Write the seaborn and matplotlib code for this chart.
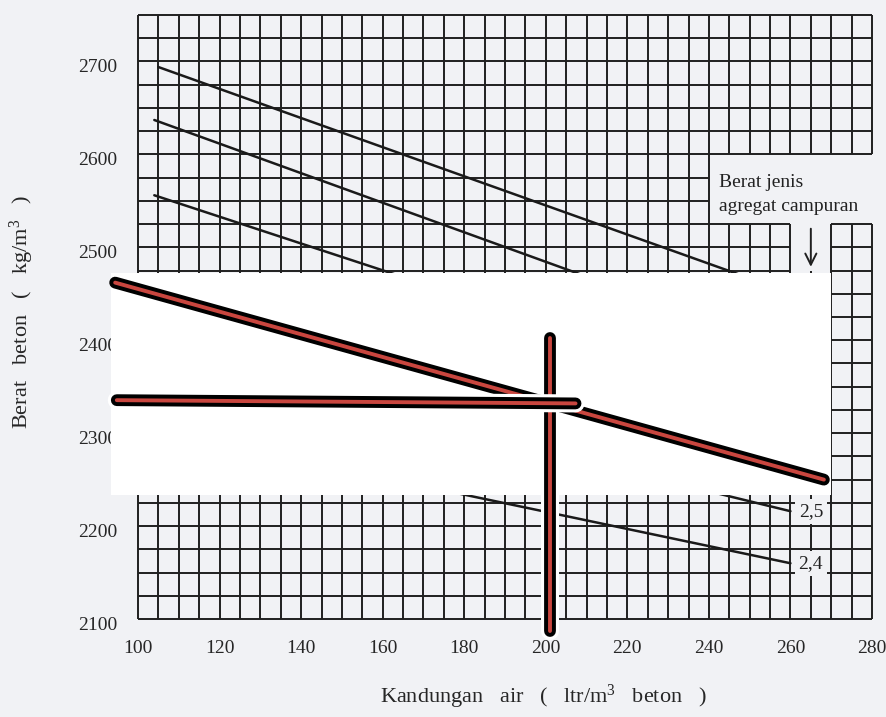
import numpy as np
import pandas as pd
import matplotlib
matplotlib.use("Agg")
import matplotlib.pyplot as plt
import matplotlib.patheffects as pe
from matplotlib.patches import Rectangle
from matplotlib.transforms import ScaledTranslation
import seaborn as sns

# ---------------- data ----------------
agg_sg = ["2,9", "2,8", "2,7", "2,5", "2,4"]          # berat jenis agregat campuran
water_start = [105, 104, 104, 105, 105]               # ltr/m3
density_start = [2694, 2637, 2556, 2382, 2303]        # kg/m3
water_end = [260, 260, 260, 260, 260]
density_end = [2451, 2389, 2331, 2216, 2160]

x_ticks = [100, 120, 140, 160, 180, 200, 220, 240, 260, 280]
y_ticks = [2100, 2200, 2300, 2400, 2500, 2600, 2700]

# hand-drawn marks over the scan (red with black outline)
diag_x = [94.4, 268.2]
diag_y = [2462, 2250]
horiz_x = [94.8, 207.3]
horiz_y = [2335.5, 2332]
vert_x = [201, 201]
vert_y = [2402, 2087]

# erased (white) band of the scan
band_x = [93.5, 270]
band_y = [2233, 2472]

# ---------------- style ----------------
BG = "#f1f2f5"
GC = "#202020"
sns.set_theme(style="white")
plt.rcParams["font.family"] = ["Liberation Serif", "DejaVu Serif"]
plt.rcParams["mathtext.fontset"] = "custom"
plt.rcParams["mathtext.rm"] = "Liberation Serif"
plt.rcParams["mathtext.it"] = "Liberation Serif:italic"
plt.rcParams["mathtext.bf"] = "Liberation Serif:bold"

fig = plt.figure(figsize=(8.87, 7.17), dpi=100, facecolor=BG)
ax = fig.add_axes([138 / 887, 1 - 619 / 717, 734 / 887, 604 / 717])
ax.set_facecolor(BG)
ax.set_xlim(100, 280)
ax.set_ylim(2100, 2750)
for s in ax.spines.values():
    s.set_visible(False)

glw = 1.4
kw = dict(colors=GC, lw=glw, clip_on=False, zorder=1)
# horizontal grid lines
ax.hlines(np.arange(2600, 2751, 25), 100, 280, **kw)
ax.hlines([2550, 2575], 100, 240, **kw)
ax.hlines([2475, 2500, 2525], 100, 260, **kw)
ax.hlines([2475, 2500, 2525], 270, 280, **kw)
ax.hlines(np.arange(2100, 2451, 25), 100, 280, **kw)
# vertical grid lines
ax.vlines(np.arange(100, 241, 5), 2100, 2750, **kw)
ax.vlines([245, 250, 255, 260, 270, 275, 280], 2100, 2525, **kw)
ax.vlines([245, 250, 255, 260, 265, 270, 275, 280], 2600, 2750, **kw)
ax.vlines([265], 2100, 2475, **kw)

# density lines
rows = []
for name, xs, ys, xe, ye in zip(agg_sg, water_start, density_start, water_end, density_end):
    rows.append({"ga": name, "water": xs, "density": ys})
    rows.append({"ga": name, "water": xe, "density": ye})
df = pd.DataFrame(rows)
sns.lineplot(data=df, x="water", y="density", units="ga", estimator=None,
             color="#1a1a1a", lw=1.8, sort=False, legend=False, ax=ax, zorder=2)

for name, xe, ye in zip(agg_sg, water_end, density_end):
    if ye < band_y[0]:
        ax.text(xe + 5, ye, name, ha="center", va="center", fontsize=14, color="#222",
                zorder=3, bbox=dict(boxstyle="square,pad=0.2", fc=BG, ec="none"))

# legend note and arrow
ax.text(242.4, 2565, "Berat jenis", fontsize=14, ha="left", va="baseline", color="#222", zorder=3)
ax.text(242.4, 2539, "agregat campuran", fontsize=14, ha="left", va="baseline", color="#222", zorder=3)
ax.annotate("", xy=(265, 2476), xytext=(265, 2523),
            arrowprops=dict(arrowstyle="->", color=GC, lw=1.4, mutation_scale=20), zorder=3)

# white erased band
ax.add_patch(Rectangle((band_x[0], band_y[0]), band_x[1] - band_x[0], band_y[1] - band_y[0],
                       fc="white", ec="none", zorder=5, clip_on=False))


def mark(xs, ys, z, halo):
    eff = []
    if halo:
        eff.append(pe.Stroke(linewidth=13, foreground="white", capstyle="round"))
    eff += [pe.Stroke(linewidth=8.5, foreground="black", capstyle="round"), pe.Normal()]
    ax.plot(xs, ys, color="#c9463f", lw=2.8, solid_capstyle="round", zorder=z,
            clip_on=False, path_effects=eff)


mark(diag_x, diag_y, 6, False)
mark(vert_x, vert_y, 7, True)
mark(horiz_x, horiz_y, 8, True)

# ticks
ax.set_xticks(x_ticks)
ax.set_yticks(y_ticks)
ax.tick_params(axis="both", length=0, labelsize=14, labelcolor="#262626")
ax.tick_params(axis="x", pad=15)
ax.tick_params(axis="y", pad=15)
ax.set_xlabel("")
ax.set_ylabel("")
ax.grid(False)
shift = ScaledTranslation(0, -0.04, fig.dpi_scale_trans)
for lbl in ax.get_yticklabels():
    lbl.set_transform(lbl.get_transform() + shift)

fig.text(543 / 887, 1 - 697 / 717, r"Kandungan   air   (   ltr/m$^{3}$   beton   )",
         ha="center", va="center", fontsize=16, color="#262626")
fig.text(22 / 887, 1 - 312 / 717, r"Berat   beton   (   kg/m$^{3}$   )",
         ha="center", va="center", rotation=90, fontsize=16, color="#262626")

fig.savefig("out.png", dpi=100, facecolor=BG)
